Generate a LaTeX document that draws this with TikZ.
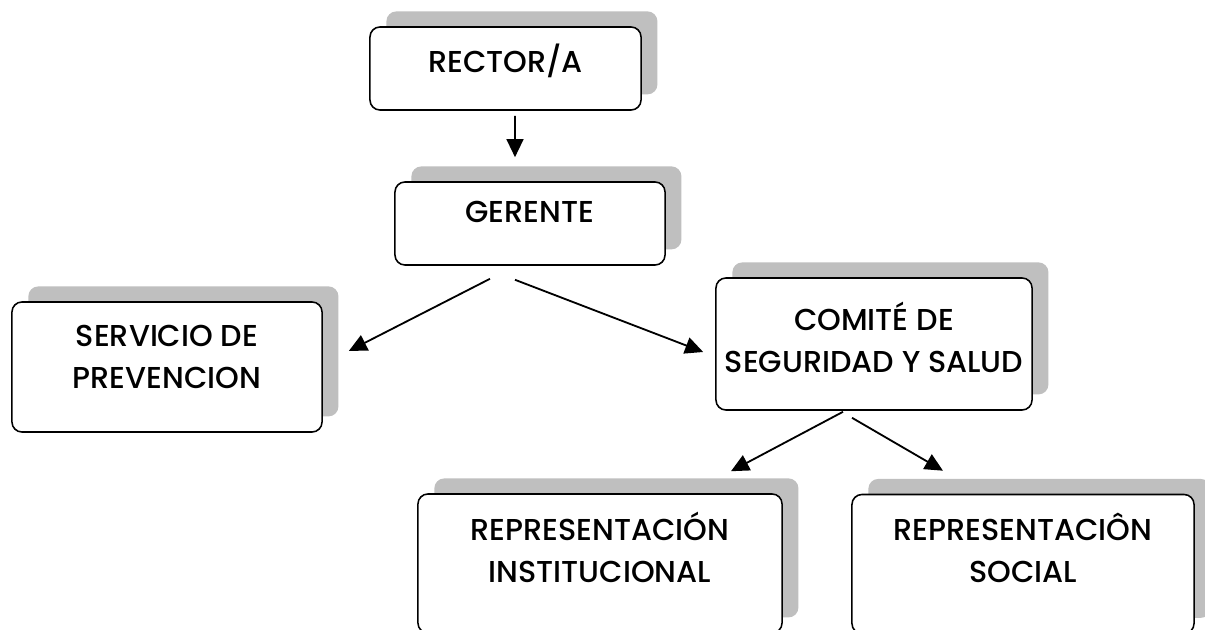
\documentclass[tikz,border=0pt]{standalone}
\usepackage{fontspec}
\setmainfont{Poppins}[UprightFont={* Medium}]
\usetikzlibrary{shadows,arrows.meta,calc}

\tikzset{
  orgbox/.style={draw, line width=1.1pt, rounded corners=0.25cm, fill=white,
    align=center, font=\fontsize{21.5}{30}\selectfont,
    drop shadow={shadow xshift=0.41cm, shadow yshift=0.39cm, fill=black!25, opacity=1}},
  arr/.style={line width=1.3pt, -{Triangle[length=0.45cm, width=0.42cm]}}
}

\begin{document}
\begin{tikzpicture}[x=0.025cm, y=-0.025cm]
      % \draw[help lines] (0,0) grid[step=100] (1205,630);
      \useasboundingbox (0,0) rectangle (1205,630);
      \clip (0,0) rectangle (1205,630);
      \node[orgbox, minimum width=6.775cm, minimum height=2.075cm, text depth=15pt] (rector) at (505.5,68.5) {RECTOR/A};
      \node[orgbox, minimum width=6.75cm, minimum height=2.075cm, text depth=17pt] (gerente) at (530,223.5) {GERENTE};
      \node[orgbox, minimum width=7.75cm, minimum height=3.25cm, text depth=14pt] (servicio) at (167,367) {SERVICIO DE\\PREVENCION};
      \node[orgbox, minimum width=7.9cm, minimum height=3.3cm, text depth=10pt] (comite) at (874,344) {COMITÉ DE\\SEGURIDAD Y SALUD};
      \node[orgbox, minimum width=9.1cm, minimum height=3.475cm, text depth=23pt] (inst) at (600,563.5) {REPRESENTACIÓN\\INSTITUCIONAL};
      \node[orgbox, minimum width=8.55cm, minimum height=3.475cm, text depth=23pt] (social) at (1023,564) {REPRESENTACIÔN\\SOCIAL};
      \draw[arr] ($(rector.south)+(9.5,5)$) -- ($(gerente.north)+(-15,-24)$);
      \draw[arr] ($(gerente.south)+(-40,13)$) -- ($(servicio.east)+(26,-16)$);
      \draw[arr] ($(gerente.south)+(-15,14)$) -- ($(comite.west)+(-12,8)$);
      \draw[arr] ($(comite.south)+(-31,1)$) -- ($(inst.north)+(131,-22)$);
      \draw[arr] ($(comite.south)+(-22,7)$) -- ($(social.north)+(-80,-23)$);
\end{tikzpicture}
\end{document}
